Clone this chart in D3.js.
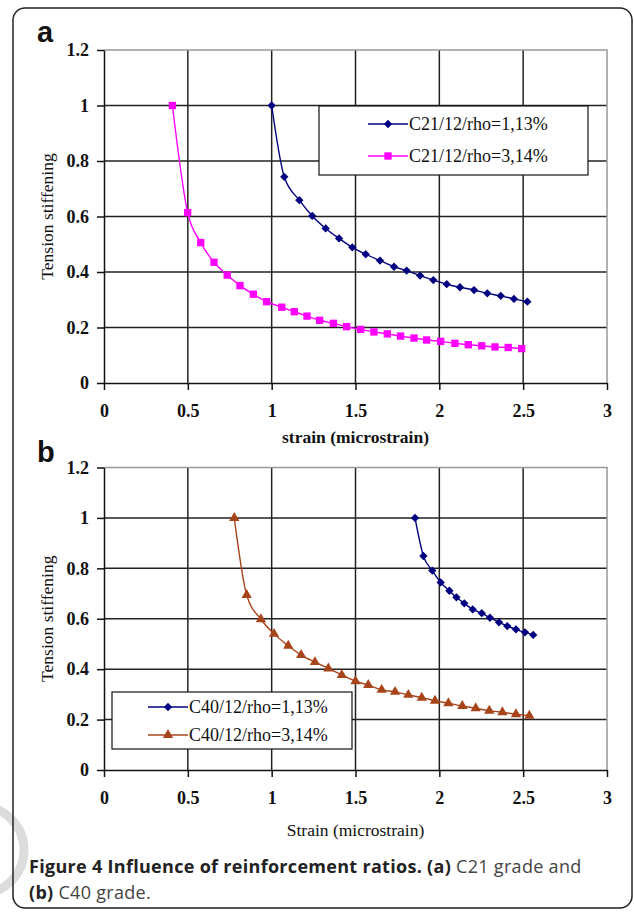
<!DOCTYPE html>
<html>
<head>
<meta charset="utf-8">
<script src="https://cdnjs.cloudflare.com/ajax/libs/d3/7.8.5/d3.min.js"></script>
<style>
  body { margin: 0; background: #fff; }
  .tick text { font-family: "Liberation Serif", "Times New Roman", serif; font-size: 18px; font-weight: bold; fill: #111; }
  .axisTitle { font-family: "Liberation Serif", "Times New Roman", serif; font-size: 17.5px; fill: #111; }
  .legendText { font-family: "Liberation Serif", "Times New Roman", serif; font-size: 18px; fill: #111; }
  .panelLabel { font-family: "Liberation Sans", Arial, sans-serif; font-size: 29px; font-weight: bold; fill: #111; }
  .caption { font-family: "Open Sans", sans-serif; font-size: 18px; letter-spacing: 0.3px; fill: #444; }
</style>
</head>
<body>
<div id="figure"></div>
<script>
// Tick values shared by both panels
var xTicks = [0, 0.5, 1, 1.5, 2, 2.5, 3];
var yTicks = [0, 0.2, 0.4, 0.6, 0.8, 1, 1.2];

// Panel a: C21 grade
var c21LowStrain = [1.0, 1.075, 1.165, 1.242, 1.322, 1.402, 1.481, 1.561, 1.646, 1.73, 1.805, 1.885, 1.964, 2.044, 2.123, 2.207, 2.286, 2.366, 2.445, 2.525];
var c21LowTS = [1.0, 0.743, 0.659, 0.602, 0.557, 0.521, 0.489, 0.464, 0.441, 0.419, 0.405, 0.387, 0.371, 0.356, 0.345, 0.335, 0.323, 0.314, 0.303, 0.293];
var c21HighStrain = [0.408, 0.499, 0.577, 0.656, 0.735, 0.811, 0.891, 0.97, 1.06, 1.135, 1.211, 1.286, 1.368, 1.447, 1.531, 1.61, 1.69, 1.769, 1.849, 1.924, 2.008, 2.093, 2.173, 2.253, 2.332, 2.411, 2.491];
var c21HighTS = [1.0, 0.614, 0.506, 0.435, 0.389, 0.351, 0.32, 0.293, 0.273, 0.257, 0.241, 0.226, 0.215, 0.203, 0.193, 0.184, 0.177, 0.169, 0.162, 0.155, 0.15, 0.143, 0.138, 0.134, 0.13, 0.128, 0.124];

// Panel b: C40 grade
var c40LowStrain = [1.855, 1.905, 1.958, 2.008, 2.06, 2.102, 2.149, 2.199, 2.253, 2.302, 2.356, 2.405, 2.457, 2.511, 2.56];
var c40LowTS = [1.0, 0.849, 0.791, 0.744, 0.711, 0.685, 0.661, 0.637, 0.622, 0.604, 0.586, 0.571, 0.558, 0.546, 0.536];
var c40HighStrain = [0.777, 0.851, 0.936, 1.014, 1.099, 1.176, 1.258, 1.338, 1.418, 1.5, 1.576, 1.656, 1.736, 1.815, 1.895, 1.974, 2.054, 2.137, 2.217, 2.298, 2.376, 2.457, 2.537];
var c40HighTS = [1.0, 0.694, 0.598, 0.54, 0.493, 0.456, 0.428, 0.403, 0.377, 0.352, 0.337, 0.318, 0.31, 0.298, 0.287, 0.275, 0.265, 0.254, 0.245, 0.235, 0.229, 0.221, 0.215];

var svgWidth = 634;
var svgHeight = 912;

var svg = d3.select("#figure")
  .append("svg")
  .attr("width", svgWidth)
  .attr("height", svgHeight);

// clip the chart pictures on the right, like the cropped original
svg.append("clipPath").attr("id", "cut")
  .append("rect").attr("x", 0).attr("y", 0).attr("width", 612).attr("height", svgHeight);

// faint watermark ring at lower left
svg.append("circle")
  .attr("cx", -20).attr("cy", 850).attr("r", 44)
  .attr("fill", "none").attr("stroke", "#dcdcdc").attr("stroke-width", 9);

// outer frame
svg.append("rect")
  .attr("x", 13).attr("y", 8).attr("width", 619).attr("height", 900)
  .attr("rx", 12)
  .attr("fill", "none").attr("stroke", "#222").attr("stroke-width", 1.5);

function drawPanel(p) {
  var x = d3.scaleLinear().domain([0, 3]).range([104, 607]);
  var y = d3.scaleLinear().domain([0, 1.2]).range([p.bottom, p.top]);

  var g = svg.append("g").attr("clip-path", "url(#cut)");

  // gridlines
  g.append("g").selectAll("line")
    .data(xTicks.filter(d => d > 0 && d < 3))
    .join("line")
    .attr("x1", d => x(d)).attr("x2", d => x(d))
    .attr("y1", y(0)).attr("y2", y(1.2))
    .attr("stroke", "#222").attr("stroke-width", 1.5);

  g.append("g").selectAll("line")
    .data(yTicks.filter(d => d > 0 && d < 1.2))
    .join("line")
    .attr("x1", x(0)).attr("x2", x(3))
    .attr("y1", d => y(d)).attr("y2", d => y(d))
    .attr("stroke", "#222").attr("stroke-width", 1.5);

  // grey top and right edge of the plot area
  g.append("path")
    .attr("d", `M${x(0)},${y(1.2)}H${x(3)}V${y(0)}`)
    .attr("fill", "none").attr("stroke", "#999").attr("stroke-width", 1.5);

  var leftAxis = d3.axisLeft(y).tickValues(yTicks).tickFormat(d3.format(""))
    .tickSizeInner(7).tickSizeOuter(0).tickPadding(8);
  var bottomAxis = d3.axisBottom(x).tickValues(xTicks).tickFormat(d3.format(""))
    .tickSizeInner(7).tickSizeOuter(0).tickPadding(14);

  var ya = g.append("g").attr("transform", `translate(${x(0)},0)`).call(leftAxis);
  var xa = g.append("g").attr("transform", `translate(0,${y(0)})`).call(bottomAxis);
  [ya, xa].forEach(function(a) {
    a.selectAll("path, line").attr("stroke", "#111").attr("stroke-width", 1.5);
    a.attr("font-family", null).attr("font-size", null);
  });

  // series
  p.series.forEach(function(s) {
    var pts = s.xs.map((v, i) => [v, s.ys[i]]);
    var line = d3.line().x(d => x(d[0])).y(d => y(d[1])).curve(d3.curveMonotoneX);
    g.append("path")
      .datum(pts)
      .attr("d", line)
      .attr("fill", "none").attr("stroke", s.color).attr("stroke-width", 1.4);
    g.append("g").selectAll("path")
      .data(pts)
      .join("path")
      .attr("transform", d => `translate(${x(d[0])},${y(d[1])})`)
      .attr("d", d3.symbol(s.symbol, s.size))
      .attr("fill", s.color);
  });

  // axis titles
  svg.append("text")
    .attr("class", "axisTitle")
    .attr("font-size", "18.5px")
    .attr("transform", `translate(53, ${(y(0) + y(1.2)) / 2}) rotate(-90)`)
    .attr("text-anchor", "middle")
    .text("Tension stiffening");

  svg.append("text")
    .attr("class", "axisTitle")
    .attr("x", (x(0) + x(3)) / 2)
    .attr("y", p.xTitleY)
    .attr("text-anchor", "middle")
    .attr("font-weight", p.xTitleBold ? "bold" : "normal")
    .text(p.xTitle);

  // panel letter
  svg.append("text")
    .attr("class", "panelLabel")
    .attr("x", 37).attr("y", p.labelY)
    .text(p.label);

  // legend
  var lg = svg.append("g").attr("transform", `translate(${p.legend.x},${p.legend.y})`);
  lg.append("rect")
    .attr("width", p.legend.w).attr("height", p.legend.h)
    .attr("fill", "#fff").attr("stroke", "#111").attr("stroke-width", 1.2);
  p.series.forEach(function(s, i) {
    var ly = p.legend.rows[i];
    lg.append("line")
      .attr("x1", p.legend.lx).attr("x2", p.legend.lx + 40)
      .attr("y1", ly).attr("y2", ly)
      .attr("stroke", s.color).attr("stroke-width", 1.3);
    lg.append("path")
      .attr("transform", `translate(${p.legend.lx + 20},${ly})`)
      .attr("d", d3.symbol(s.symbol, s.size))
      .attr("fill", s.color);
    lg.append("text")
      .attr("class", "legendText")
      .attr("x", p.legend.lx + 41).attr("y", ly + 6)
      .text(s.name);
  });
}

drawPanel({
  top: 50, bottom: 383,
  label: "a", labelY: 42,
  xTitle: "strain (microstrain)", xTitleBold: true, xTitleY: 443,
  legend: { x: 319, y: 106, w: 269, h: 69, lx: 49, rows: [18, 50] },
  series: [
    { name: "C21/12/rho=1,13%", xs: c21LowStrain, ys: c21LowTS, color: "#000080", symbol: d3.symbolDiamond2, size: 44 },
    { name: "C21/12/rho=3,14%", xs: c21HighStrain, ys: c21HighTS, color: "#ff00ff", symbol: d3.symbolSquare, size: 54 }
  ]
});

drawPanel({
  top: 467.5, bottom: 770,
  label: "b", labelY: 462,
  xTitle: "Strain (microstrain)", xTitleBold: false, xTitleY: 836,
  legend: { x: 112, y: 692, w: 240, h: 57, lx: 36, rows: [15, 43] },
  series: [
    { name: "C40/12/rho=1,13%", xs: c40LowStrain, ys: c40LowTS, color: "#000080", symbol: d3.symbolDiamond2, size: 44 },
    { name: "C40/12/rho=3,14%", xs: c40HighStrain, ys: c40HighTS, color: "#a8441a", symbol: d3.symbolTriangle, size: 46 }
  ]
});

// figure caption
var cap = svg.append("text").attr("class", "caption").attr("x", 29).attr("y", 873);
cap.append("tspan").attr("font-weight", "bold").attr("fill", "#222").text("Figure 4 Influence of reinforcement ratios. (a)");
cap.append("tspan").text(" C21 grade and");
var cap2 = svg.append("text").attr("class", "caption").attr("x", 29).attr("y", 899);
cap2.append("tspan").attr("font-weight", "bold").attr("fill", "#222").text("(b)");
cap2.append("tspan").text(" C40 grade.");
</script>
</body>
</html>
